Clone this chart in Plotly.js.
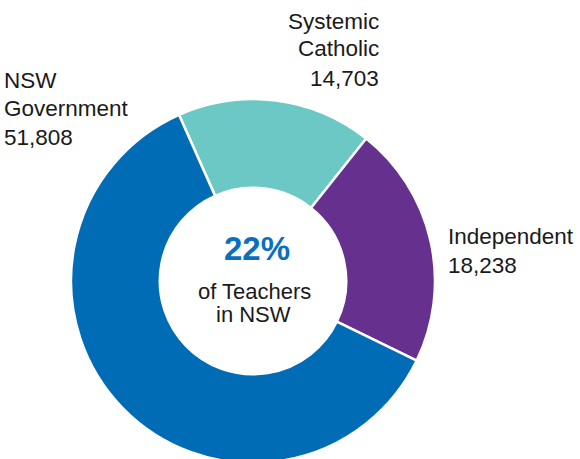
<!DOCTYPE html>
<html>
<head>
<meta charset="utf-8">
<script src="https://cdn.plot.ly/plotly-3.0.1.min.js"></script>
<style>
html,body{margin:0;padding:0;overflow:hidden;background:#fff;}
#chart{width:580px;height:470px;}
</style>
</head>
<body>
<div id="chart"></div>
<script>
// Data
const categories = ["Systemic Catholic", "Independent", "NSW Government"];
const labelLines = [["Systemic", "Catholic"], ["Independent"], ["NSW", "Government"]];
const teachers = [14703, 18238, 51808];
const colors = ["#6cc8c5", "#65308e", "#006cb5"];
const centerHeadline = "22%";
const centerLines = ["of Teachers", "in NSW"];

const W = 580, H = 470;
const FONT = "Liberation Sans, Arial, sans-serif";
const fmt = v => v.toLocaleString("en-US");

// label placement (pixels)
const labelPos = [
  {x: 381, ys: [22, 49, 79], anchor: "right"},
  {x: 446, ys: [236, 265], anchor: "left"},
  {x: 2, ys: [80, 108, 137], anchor: "left"}
];

const annotations = [];
function addLine(text, px, py, anchor, size, color, bold) {
  annotations.push({
    xref: "paper", yref: "paper",
    x: px / W, y: (H - py) / H,
    xanchor: anchor, yanchor: "middle",
    text: bold ? "<b>" + text + "</b>" : text,
    showarrow: false,
    font: {family: FONT, size: size, color: color},
    align: anchor
  });
}
categories.forEach((c, i) => {
  const lines = labelLines[i].concat([fmt(teachers[i])]);
  lines.forEach((t, j) => addLine(t, labelPos[i].x, labelPos[i].ys[j], labelPos[i].anchor, 22.5, "#1a1a1a", false));
});
addLine(centerHeadline, 257, 249, "center", 33, "#0a6fbf", true);
addLine(centerLines[0], 254, 291, "center", 22, "#1a1a1a", false);
addLine(centerLines[1], 253, 314, "center", 22, "#1a1a1a", false);

const trace = {
  type: "pie",
  labels: categories,
  values: teachers,
  marker: {colors: colors, line: {color: "#ffffff", width: 2.5}},
  hole: 0.512,
  sort: false,
  direction: "clockwise",
  rotation: -24,
  textinfo: "none",
  hoverinfo: "label+value",
  domain: {x: [71 / W, 435 / W], y: [(H - 281 - 182) / H, (H - 281 + 182) / H]},
  showlegend: false
};

const layout = {
  width: W, height: H,
  margin: {l: 0, r: 0, t: 0, b: 0},
  paper_bgcolor: "#ffffff",
  showlegend: false,
  annotations: annotations,
  font: {family: FONT}
};

Plotly.newPlot("chart", [trace], layout, {displayModeBar: false, staticPlot: true});
</script>
</body>
</html>
